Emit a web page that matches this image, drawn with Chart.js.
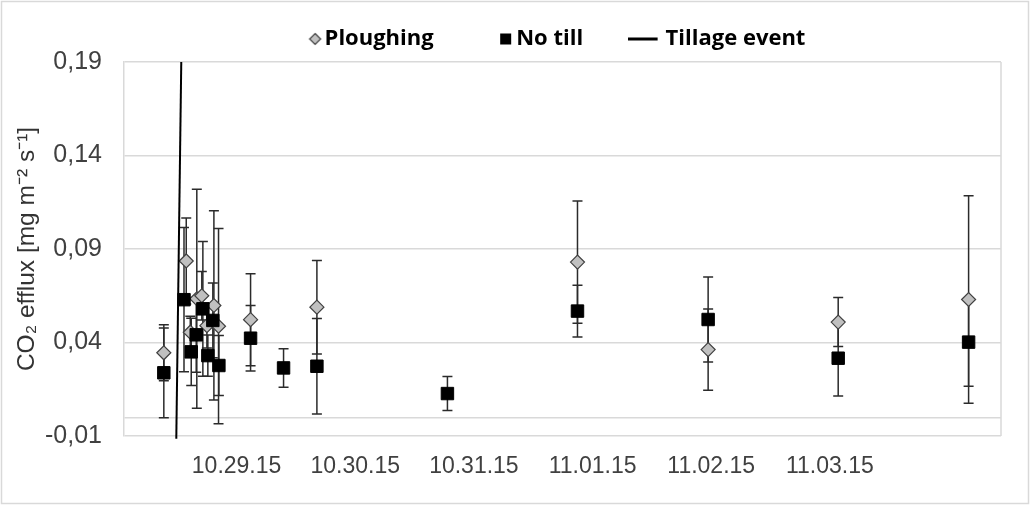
<!DOCTYPE html>
<html><head><meta charset="utf-8">
<script src="https://cdn.jsdelivr.net/npm/chart.js@4.4.1/dist/chart.umd.min.js"></script>
<style>html,body{margin:0;padding:0;background:#fff}#wrap{width:1030px;height:505px;position:relative}</style>
</head><body><div id="wrap"><canvas id="c" width="1030" height="505"></canvas></div>
<script>
// x values: days since 28 Oct 2015 00:00
const xTickValues = [1, 2, 3, 4, 5, 6];
const xTickLabels = ['10.29.15', '10.30.15', '10.31.15', '11.01.15', '11.02.15', '11.03.15'];
const yTickValues = [-0.01, 0.04, 0.09, 0.14, 0.19];
const yTickLabels = ['-0,01', '0,04', '0,09', '0,14', '0,19'];
const axisLineValue = 0;

const ploughDays = [0.387, 0.576, 0.610, 0.665, 0.707, 0.750, 0.809, 0.848, 1.118, 1.677, 3.873, 4.974, 6.070, 7.169];
const ploughMean = [0.0345, 0.0836, 0.0455, 0.0634, 0.0650, 0.0490, 0.0598, 0.0487, 0.0522, 0.0589, 0.0830, 0.0362, 0.0509, 0.0630];
const ploughErr  = [0.0150, 0.0230, 0.0085, 0.0585, 0.0130, 0.0120, 0.0506, 0.0522, 0.0246, 0.0250, 0.0327, 0.0217, 0.0131, 0.0555];

const noTillDays = [0.387, 0.557, 0.618, 0.660, 0.716, 0.758, 0.800, 0.851, 1.118, 1.396, 1.677, 2.777, 3.873, 4.974, 6.070, 7.169];
const noTillMean = [0.0238, 0.0629, 0.0350, 0.0441, 0.0580, 0.0330, 0.0518, 0.0277, 0.0423, 0.0264, 0.0273, 0.0127, 0.0568, 0.0523, 0.0316, 0.0402];
const noTillErr  = [0.0240, 0.0386, 0.0180, 0.0200, 0.0360, 0.0110, 0.0200, 0.0161, 0.0175, 0.0103, 0.0255, 0.0091, 0.0138, 0.0227, 0.0202, 0.0236];

const tillageDays = [0.492, 0.534];
const tillageFlux = [-0.0115, 0.19];

const seriesNames = ['Ploughing', 'No till', 'Tillage event'];

function makeImg(w, h, draw) {
  const c = document.createElement('canvas');
  c.width = w; c.height = h;
  draw(c.getContext('2d'));
  return c;
}
const diamondImg = makeImg(30, 14, g => {
  g.beginPath(); g.moveTo(22.5, 1.5); g.lineTo(28, 7); g.lineTo(22.5, 12.5); g.lineTo(17, 7); g.closePath();
  g.fillStyle = '#c0c0c0'; g.fill(); g.strokeStyle = '#404040'; g.lineWidth = 1.2; g.stroke();
});
const squareImg = makeImg(26, 12, g => { g.fillStyle = '#000'; g.fillRect(14, 0.5, 11, 11); });
const lineImg = makeImg(42, 4, g => { g.fillStyle = '#000'; g.fillRect(0, 0.5, 30, 3); });

const errorBars = {
  id: 'errorBars',
  beforeDatasetsDraw(chart) {
    const {ctx, scales: {x, y}} = chart;
    ctx.save();
    ctx.strokeStyle = '#2b2b2b';
    ctx.lineWidth = 1.5;
    chart.data.datasets.forEach(ds => {
      if (!ds.errors) return;
      ds.data.forEach((p, i) => {
        const e = ds.errors[i];
        if (e == null || p.y == null) return;
        const px = x.getPixelForValue(p.x);
        const yt = y.getPixelForValue(p.y + e);
        const yb = y.getPixelForValue(p.y - e);
        ctx.beginPath();
        ctx.moveTo(px, yt); ctx.lineTo(px, yb);
        ctx.moveTo(px - 5, yt); ctx.lineTo(px + 5, yt);
        ctx.moveTo(px - 5, yb); ctx.lineTo(px + 5, yb);
        ctx.stroke();
      });
    });
    ctx.restore();
  }
};

const frame = {
  id: 'frame',
  beforeDatasetsDraw(chart) {
    const {ctx, chartArea: a} = chart;
    ctx.save();
    ctx.strokeStyle = '#d9d9d9';
    ctx.lineWidth = 1.5;
    ctx.beginPath();
    ctx.moveTo(a.right, a.top); ctx.lineTo(a.right, a.bottom);
    ctx.stroke();
    ctx.strokeRect(1.5, 1.5, chart.width - 3, chart.height - 3);
    ctx.restore();
  }
};

Chart.defaults.font.family = '"Liberation Sans", Arial, sans-serif';

const LEFT_PAD = 40;    // layout padding (legend is centred on padded width)
const RIGHT_PAD = -37;
new Chart(document.getElementById('c'), {
  type: 'scatter',
  data: {
    datasets: [
      {
        label: seriesNames[0],
        data: ploughDays.map((d, i) => ({x: d, y: ploughMean[i]})),
        errors: ploughErr,
        pointStyle: 'rectRot', pointRadius: 7, pointHoverRadius: 7,
        backgroundColor: '#c0c0c0', borderColor: '#404040', borderWidth: 1.2,
        order: 2
      },
      {
        label: seriesNames[1],
        data: noTillDays.map((d, i) => ({x: d, y: noTillMean[i]})),
        errors: noTillErr,
        pointStyle: 'rect', pointRadius: 8.8, pointHoverRadius: 8.8,
        backgroundColor: '#000', borderColor: '#000', borderWidth: 1,
        order: 1
      },
      {
        label: seriesNames[2],
        data: tillageDays.map((d, i) => ({x: d, y: tillageFlux[i]})),
        showLine: true, pointRadius: 0, pointHoverRadius: 0,
        borderColor: '#000', borderWidth: 2, backgroundColor: '#000',
        clip: false, order: 0
      }
    ]
  },
  options: {
    responsive: false,
    animation: false,
    events: [],
    layout: {padding: {top: -31.5, left: LEFT_PAD, right: RIGHT_PAD, bottom: 0}},
    plugins: {
      tooltip: {enabled: false},
      title: {display: true, text: '', font: {size: 1.5}, padding: {top: 0, bottom: 0.2}, weight: 500},
      legend: {
        position: 'top',
        fullSize: true,
        weight: 3000,
        labels: {
          usePointStyle: true,
          pointStyleWidth: 12,
          boxHeight: 12,
          padding: 59.5,
          color: '#000',
          font: {family: '"Open Sans", sans-serif', size: 22, weight: 'bold'},
          generateLabels: () => [diamondImg, squareImg, lineImg].map((img, i) => ({
            text: seriesNames[i], pointStyle: img, fillStyle: '#000', strokeStyle: '#000',
            lineWidth: 0, hidden: false, datasetIndex: i, fontColor: '#000'
          }))
        }
      }
    },
    scales: {
      x: {
        type: 'linear',
        min: 0.0514, max: 7.442,
        afterBuildTicks: s => { s.ticks = xTickValues.map(v => ({value: v})); },
        afterFit: s => { s.height = 69; },
        grid: {display: false, drawTicks: false},
        border: {display: false},
        ticks: {
          autoSkip: false, maxRotation: 0, padding: 17, color: '#404040',
          font: {size: 23},
          callback: (v, i) => xTickLabels[i]
        }
      },
      y: {
        type: 'linear',
        min: -0.01, max: 0.19,
        afterBuildTicks: s => {
          s.ticks = yTickValues.concat([axisLineValue]).sort((a, b) => a - b).map(v => ({value: v}));
        },
        afterFit: s => { s.width = 124 - LEFT_PAD; },
        grid: {color: '#d9d9d9', lineWidth: 1.5, drawTicks: false},
        border: {display: true, color: '#d9d9d9', width: 1.5},
        ticks: {
          padding: 22, color: '#404040', font: {size: 25},
          callback: v => {
            const i = yTickValues.findIndex(t => Math.abs(t - v) < 1e-9);
            return i >= 0 ? yTickLabels[i] : '';
          }
        },
        title: {
          display: true,
          text: 'CO₂ efflux [mg m⁻² s⁻¹]',
          color: '#333',
          font: {size: 24.5},
          padding: {top: 27.5 - LEFT_PAD - 14.7, bottom: 0}
        }
      },
      yRight: {
        type: 'linear',
        position: 'right',
        display: true,
        afterFit: s => { s.width = 29 - RIGHT_PAD; },
        grid: {display: false, drawTicks: false},
        border: {display: false},
        ticks: {display: false}
      }
    }
  },
  plugins: [frame, errorBars]
});
</script>
</body></html>
